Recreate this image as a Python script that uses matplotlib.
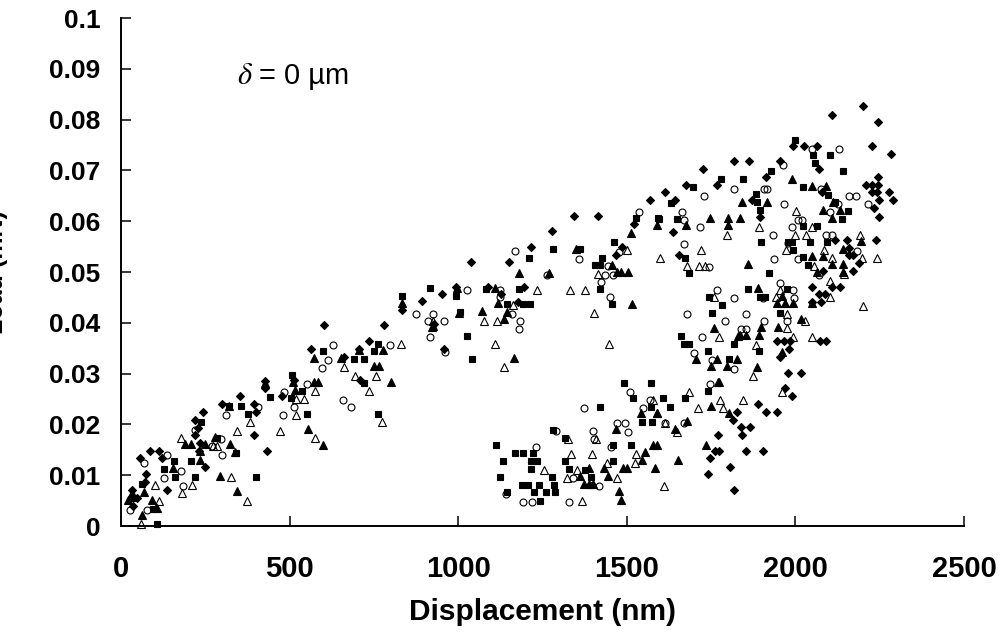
import matplotlib
matplotlib.use('Agg')
import matplotlib.pyplot as plt

plt.rcParams['font.family'] = ['Liberation Sans', 'DejaVu Sans']

# values: (displacement nm, load mN)
diamonds = [
    (56,.0133),(86,.0147),(114,.0147),(122,.0133),(74,.0102),(70,.0086),(32,.0071),(48,.0055),(36,.004),(135,.0071),
    (250,.0117),(232,.0147),(218,.018),(227,.0193),(218,.0209),(242,.0224),(234,.0163),(299,.0241),(353,.0256),(393,.0241),
    (399,.0224),(393,.0179),(434,.0147),(426,.0272),(428,.0285),(478,.0256),(513,.0288),(562,.0349),(603,.0395),(660,.0333),
    (707,.0349),(735,.0364),(780,.0395),(709,.0288),(832,.0426),(893,.0442),(929,.0397),(951,.0456),(959,.0348),(992,.047),
    (1038,.0519),(1089,.047),(1126,.0456),(1150,.0519),(1195,.047),(1178,.044),(1217,.0549),(1278,.058),(1344,.061),(1415,.061),
    (1468,.0534),(1485,.0549),(1521,.0595),(1569,.0641),(1613,.0657),(1643,.0641),(1636,.0579),(1655,.0533),(1676,.0672),(1726,.0703),
    (1768,.0672),(1819,.0718),(1863,.0718),(1914,.0687),(1954,.0718),(1870,.0641),(1895,.0609),(1993,.0748),(2025,.0748),(2065,.0748),
    (2071,.0703),(2108,.081),(2200,.0827),(2244,.0795),(2227,.0748),(2283,.0733),(2244,.0687),(2208,.0672),(2226,.0672),(2244,.0672),
    (2226,.0657),(2241,.0657),(2277,.0657),(2289,.0641),(2247,.0641),(2234,.0626),(2249,.0609),(2240,.0563),(2154,.0563),(2160,.0548),
    (2160,.0533),(2172,.0533),(2190,.0518),(2171,.0502),(2132,.0471),(2109,.0471),(2050,.0471),(2088,.0456),(2071,.0456),(2075,.044),
    (2050,.044),(2081,.0502),(2117,.0563),(2078,.0658),(1945,.0364),(1965,.0364),(1985,.0364),(1982,.0348),(1953,.0333),(2073,.0364),
    (2090,.0364),(1977,.0302),(2017,.0302),(1969,.0271),(1991,.0255),(1888,.024),(1913,.0224),(1946,.0224),(1826,.0224),(1816,.0209),
    (1838,.0194),(1866,.0194),(1841,.0179),(1771,.0179),(1761,.0148),(1773,.0148),(1854,.0148),(1903,.0148),(1746,.0133),(1805,.0117),
    (1742,.0102),(1818,.0071),
]
squares = [
    (62,.0082),(32,.0055),(96,.0034),(108,.0004),(127,.0112),(157,.0128),(160,.0097),(207,.0128),(219,.0097),(237,.0205),
    (286,.0173),(341,.0143),(320,.0236),(356,.0236),(378,.022),(399,.0097),(441,.0253),(508,.0298),(505,.0251),(537,.0266),
    (553,.022),(599,.0345),(690,.0329),(722,.0329),(721,.0282),(750,.0345),(762,.0359),(763,.022),(834,.0453),(916,.0468),
    (993,.0452),(1005,.0421),(1026,.0375),(1042,.0328),(1081,.0466),(1144,.0437),(1180,.0467),(1193,.0437),(1213,.0437),(1209,.0528),
    (1282,.0545),(1361,.0545),(1406,.0514),(1421,.0514),(1425,.0528),(1421,.0467),(1455,.0437),(1462,.056),(1527,.0606),(1594,.0606),
    (1631,.0636),(1596,.0605),(1648,.0605),(1695,.0667),(1672,.0528),(1684,.0498),(1778,.0683),(1845,.0683),(1883,.0653),(1885,.0638),
    (1895,.0622),(1928,.0699),(1999,.076),(2051,.073),(2103,.073),(2058,.0714),(2141,.0699),(2024,.0667),(2097,.0652),(2117,.0638),
    (2156,.0621),(2138,.0605),(2024,.059),(2064,.059),(1898,.0559),(1989,.0559),(2043,.0559),(2093,.0559),(1979,.0559),(1994,.0544),
    (2023,.0529),(2036,.0514),(1921,.0498),(1859,.0466),(1974,.0466),(1895,.0451),(1910,.0451),(1744,.0451),(1782,.0436),(1753,.042),
    (1954,.042),(1660,.0375),(1670,.0359),(1685,.0359),(1818,.0359),(1741,.0344),(1803,.0328),(1893,.0344),(1571,.0282),(1608,.0251),
    (1674,.0251),(1628,.0235),(1571,.0235),(1741,.0266),(1544,.0204),(1575,.0204),(1492,.0281),(1517,.0251),(1421,.0235),(1280,.0189),
    (1317,.0174),(1111,.0159),(1167,.0143),(1193,.0143),(1223,.0143),(1132,.0128),(1215,.0128),(1233,.0128),(1216,.0112),(1124,.0097),
    (1188,.0081),(1208,.0081),(1240,.0081),(1284,.0081),(1278,.0097),(1225,.0066),(1260,.0066),(1287,.0066),(1146,.0066),(1243,.005),
    (1317,.0128),(1328,.0112),(1376,.0111),(1393,.0097),(1393,.0081),(1458,.0159),(1512,.0159),(1458,.0128),
]
filled_triangles = [
    (21,.0051),(32,.0065),(68,.0066),(61,.0021),(91,.0051),(106,.0036),(154,.0114),(234,.013),(234,.0147),(189,.0161),
    (209,.0161),(250,.0161),(278,.0176),(322,.0161),(337,.0145),(295,.0099),(343,.0068),(320,.0237),(428,.0282),(510,.0284),
    (517,.0268),(572,.033),(572,.0284),(584,.0284),(556,.0191),(598,.016),(651,.033),(707,.0346),(751,.0315),(766,.0315),
    (776,.0346),(802,.0284),(832,.0438),(921,.0392),(995,.0468),(926,.0393),(1001,.0419),(1109,.0468),(1070,.0423),(1119,.0438),
    (1144,.0422),(1136,.0407),(1180,.0499),(1165,.033),(1269,.0499),(1348,.0545),(1513,.0576),(1456,.0514),(1472,.05),(1482,.05),
    (1503,.05),(1516,.0437),(1591,.0592),(1760,.039),(1829,.0375),(1704,.0329),(1768,.0329),(1826,.0329),(1749,.0315),(1796,.0314),
    (1774,.0283),(1749,.0236),(1541,.0222),(1591,.0222),(1680,.0207),(1644,.0191),(1469,.0191),(1579,.016),(1589,.016),(1553,.0146),
    (1545,.0129),(1652,.0129),(1583,.0114),(1490,.0114),(1502,.0114),(1431,.0114),(1445,.0098),(1361,.0098),(1388,.0114),(1374,.0083),
    (1388,.0083),(1401,.0083),(1477,.0068),(1483,.0052),(1804,.0222),(1675,.0592),(1747,.0607),(1801,.0607),(1836,.0607),(1799,.0592),
    (1842,.0638),(1917,.0638),(1990,.0684),(2050,.0669),(2091,.0669),(2083,.0623),(2132,.0623),(2109,.0607),(2112,.0638),(1860,.0515),
    (2195,.0561),(2142,.0546),(2050,.0531),(2083,.0531),(2110,.0515),(2140,.0515),(2063,.05),(2140,.05),(1888,.0468),(1959,.0453),
    (1944,.0438),(1969,.0438),(1992,.0438),(2050,.0438),(2016,.0407),(1897,.0392),(1947,.0392),(1836,.0376),(1853,.0376),(1893,.0376),
    (1961,.0342),(1886,.0313),(1771,.0283),(1734,.0159),
]
open_triangles = [
    (59,.0003),(113,.0049),(102,.008),(182,.0064),(212,.008),(327,.0096),(375,.0049),(177,.0173),(272,.0157),(286,.0157),
    (344,.0187),(383,.0204),(471,.0187),(520,.0219),(520,.025),(544,.025),(576,.0266),(576,.0173),(662,.0313),(693,.0295),
    (756,.0295),(736,.0266),(774,.0204),(831,.0359),(1076,.0404),(1114,.0404),(926,.0404),(1109,.0358),(1137,.0313),(1163,.0435),
    (1235,.0465),(1331,.0465),(1375,.0465),(1403,.0419),(1446,.0358),(1416,.0496),(1502,.0544),(1598,.0527),(1773,.0373),(1683,.0264),
    (1776,.0249),(1710,.0233),(1786,.0233),(1579,.0249),(1589,.0222),(1612,.0202),(1650,.0186),(1327,.0171),(1408,.0171),(1335,.0141),
    (1396,.0141),(1526,.0141),(1525,.0125),(1440,.0125),(1254,.011),(1353,.011),(1322,.0095),(1470,.0095),(1610,.0079),(1366,.0049),
    (1679,.0512),(1715,.0512),(1732,.0512),(1720,.0543),(1798,.0573),(1893,.0589),(2002,.062),(2048,.0589),(1999,.0573),(2032,.0573),
    (1972,.0543),(2193,.0573),(2086,.0543),(2108,.0527),(2198,.0527),(2241,.0527),(2054,.0512),(2144,.0496),(2104,.0482),(2104,.045),
    (2200,.0434),(1758,.0451),(1954,.0464),(1942,.045),(1974,.0418),(1975,.0389),(2029,.0404),(1882,.0357),(2050,.0373),(1994,.0373),
    (1875,.0295),(1959,.0263),(1845,.0248),
]
circles = [
    (27,.0032),(76,.0032),(67,.0125),(136,.014),(127,.0094),(177,.0109),(184,.0078),(219,.0188),(269,.0157),(297,.0171),
    (299,.014),(311,.0218),(407,.0234),(479,.0218),(482,.0264),(512,.0234),(551,.028),(595,.0311),(615,.0327),(628,.0357),
    (659,.0248),(681,.0234),(798,.0357),(874,.0418),(910,.0404),(924,.0418),(915,.0373),(958,.0403),(962,.0342),(1027,.0465),
    (1124,.0465),(1124,.045),(1161,.0418),(1182,.0403),(1180,.0387),(1168,.0542),(1263,.0495),(1357,.0526),(1445,.0511),(1434,.0495),
    (1459,.0495),(1423,.048),(1449,.045),(1478,.054),(1536,.0619),(1678,.0418),(1767,.0464),(1818,.0449),(1790,.0403),(1724,.0372),
    (1699,.0341),(1752,.0327),(1818,.031),(1747,.0279),(1510,.0264),(1569,.0248),(1547,.0233),(1373,.0233),(1470,.0202),(1496,.0202),
    (1504,.0186),(1612,.0202),(1671,.0202),(1401,.0187),(1403,.0171),(1290,.0187),(1230,.0156),(1452,.0156),(1341,.0094),(1417,.0078),
    (1142,.0063),(1192,.0048),(1220,.0048),(1330,.0048),(1729,.0649),(1663,.0619),(1669,.0603),(1717,.0588),(1669,.0556),(1745,.051),
    (1818,.0664),(1908,.0664),(1917,.0664),(1962,.0711),(2048,.0742),(2129,.0742),(2076,.0664),(2127,.0633),(2160,.0649),(2181,.0649),
    (2215,.0633),(2103,.0619),(1966,.0633),(2009,.0603),(2020,.0603),(1989,.0588),(1934,.0573),(2091,.0573),(2108,.0573),(1979,.0557),
    (2182,.0541),(1936,.0525),(2009,.0525),(2071,.0495),(1954,.0479),(1992,.0464),(1997,.0448),(1903,.0448),(1854,.0418),(1907,.0403),
    (1975,.0403),(1839,.0388),(1853,.0388),
]
xticks = [0, 500, 1000, 1500, 2000, 2500]
yticks = [0, 0.01, 0.02, 0.03, 0.04, 0.05, 0.06, 0.07, 0.08, 0.09, 0.1]
ylabels = ['0', '0.01', '0.02', '0.03', '0.04', '0.05', '0.06', '0.07', '0.08', '0.09', '0.1']

fig = plt.figure(figsize=(10.03, 6.33), dpi=100)
ax = fig.add_axes([121/1003, 1-526/633, (964-121)/1003, (526-18)/633])

def draw(points, marker, size, filled):
    xs = [p[0] for p in points]
    ys = [p[1] for p in points]
    ax.plot(xs, ys, linestyle='none', marker=marker, markersize=size, markeredgewidth=0.8,
            markerfacecolor='black' if filled else 'none', markeredgecolor='black', clip_on=False)

draw(diamonds, 'D', 4.0, True)
draw(squares, 's', 5.0, True)
draw(filled_triangles, '^', 5.6, True)
draw(open_triangles, '^', 5.6, False)
draw(circles, 'o', 5.0, False)

ax.set_xlim(0, 2500)
ax.set_ylim(0, 0.1)
ax.set_xticks(xticks)
ax.set_yticks(yticks)
ax.set_yticklabels(ylabels)
ax.tick_params(axis='x', direction='in', length=7.5, width=1.1, labelsize=21, pad=21)
ax.tick_params(axis='y', direction='in', length=7.5, width=1.1, labelsize=19, pad=15)
for lab in ax.get_xticklabels() + ax.get_yticklabels():
    lab.set_fontweight('bold')
ax.spines['top'].set_visible(False)
ax.spines['right'].set_visible(False)
ax.spines['left'].set_linewidth(1.4)
ax.spines['bottom'].set_linewidth(1.4)

ax.set_xlabel('Displacement (nm)', fontsize=21.5, fontweight='bold')
ax.xaxis.set_label_coords(0.5, -0.142)
ax.set_ylabel('Load (mN)', fontsize=18, fontweight='bold')
ax.yaxis.set_label_coords((8-121)/843, 0.5)
ax.text(344, 0.0885, r'$\delta$', fontsize=22, math_fontfamily='stix', va='center', ha='left')
ax.text(408, 0.0885, '= 0 µm', fontsize=21, va='center', ha='left')

fig.savefig('out.png', dpi=100)
